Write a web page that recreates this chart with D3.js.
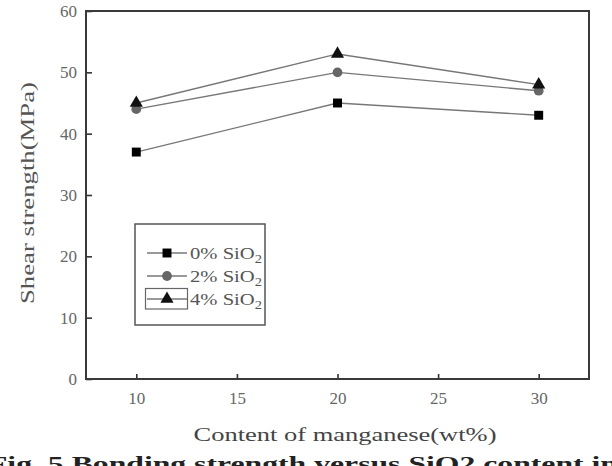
<!DOCTYPE html>
<html><head><meta charset="utf-8">
<script src="https://cdn.jsdelivr.net/npm/d3@7"></script>
<style>body{margin:0;background:#fff}svg{display:block}</style>
</head><body>
<svg id="c" width="612" height="466"></svg>
<script>
const manganese = [10, 20, 30];
const sio2_0 = [37, 45, 43];
const sio2_2 = [44, 50, 47];
const sio2_4 = [45, 53, 48];
const xTicks = [10, 15, 20, 25, 30];
const yTicks = [0, 10, 20, 30, 40, 50, 60];
const seriesNames = ["0% SiO", "2% SiO", "4% SiO"];

const svg = d3.select("#c");
const L = 86, R = 589, T = 11, B = 379;
const x = d3.scaleLinear().domain([7.5, 32.5]).range([L, R]);
const y = d3.scaleLinear().domain([0, 60]).range([B, T]);
const font = "'Liberation Serif', 'DejaVu Serif', serif";

// axes with inward ticks
const gx = svg.append("g").attr("transform", `translate(0,${B})`)
  .call(d3.axisBottom(x).tickValues(xTicks).tickSizeInner(-5).tickSizeOuter(0).tickPadding(13));
const gy = svg.append("g").attr("transform", `translate(${L},0)`)
  .call(d3.axisLeft(y).tickValues(yTicks).tickSizeInner(-6).tickSizeOuter(0).tickPadding(9));
[gx, gy].forEach(g => {
  g.select(".domain").remove();
  g.selectAll(".tick line").attr("stroke", "#333").attr("stroke-width", 1.6);
  g.selectAll(".tick text").attr("fill", "#666").attr("font-family", font).attr("font-size", 17);
});
gx.selectAll(".tick text").attr("dy", "0.71em");

// frame
svg.append("rect").attr("x", L).attr("y", T).attr("width", R - L).attr("height", B - T)
  .attr("fill", "none").attr("stroke", "#3a3a3a").attr("stroke-width", 2);

const series = [
  {vals: sio2_0, shape: d3.symbolSquare, fill: "#000", size: 80},
  {vals: sio2_2, shape: d3.symbolCircle, fill: "#666", size: 75},
  {vals: sio2_4, shape: d3.symbolTriangle, fill: "#111", size: 75}
];
const line = d3.line().x((d, i) => x(manganese[i])).y(d => y(d));
series.forEach(s => {
  svg.append("path").datum(s.vals).attr("d", line)
    .attr("fill", "none").attr("stroke", "#777").attr("stroke-width", 1.4);
  svg.selectAll(null).data(s.vals).enter().append("path")
    .attr("d", d3.symbol().type(s.shape).size(s.size))
    .attr("transform", (d, i) => `translate(${x(manganese[i])},${y(d)})`)
    .attr("fill", s.fill);
});

// legend
const lg = svg.append("g");
lg.append("rect").attr("x", 135).attr("y", 224).attr("width", 130).attr("height", 101)
  .attr("fill", "#fff").attr("stroke", "#555").attr("stroke-width", 1.5);
const rowsY = [253, 276, 299];
series.forEach((s, i) => {
  const yy = rowsY[i];
  if (i === 2) {
    lg.append("rect").attr("x", 145.5).attr("y", 288.5).attr("width", 42).attr("height", 20.5)
      .attr("fill", "none").attr("stroke", "#666").attr("stroke-width", 1.2);
  }
  lg.append("line").attr("x1", 147).attr("x2", 187).attr("y1", yy).attr("y2", yy)
    .attr("stroke", "#777").attr("stroke-width", 1.4);
  lg.append("path").attr("d", d3.symbol().type(s.shape).size(s.size))
    .attr("transform", `translate(167,${yy})`).attr("fill", s.fill);
  const t = lg.append("text").attr("x", 190).attr("y", yy + 5.5)
    .attr("font-family", font).attr("font-size", 17).attr("fill", "#555")
    .attr("textLength", 72).attr("lengthAdjust", "spacingAndGlyphs");
  t.append("tspan").text(seriesNames[i]);
  t.append("tspan").attr("font-size", 12).attr("dy", 4).text("2");
});

// axis titles
svg.append("text").attr("x", 345).attr("y", 441).attr("text-anchor", "middle")
  .attr("font-family", font).attr("font-size", 19).attr("fill", "#444")
  .attr("textLength", 303).attr("lengthAdjust", "spacingAndGlyphs")
  .text("Content of manganese(wt%)");
svg.append("text").attr("transform", "translate(34,193) rotate(-90)").attr("text-anchor", "middle")
  .attr("font-family", font).attr("font-size", 19).attr("fill", "#555")
  .attr("textLength", 222).attr("lengthAdjust", "spacingAndGlyphs")
  .text("Shear strength(MPa)");

// partially visible caption at the bottom edge (cut off in the reference too)
svg.append("text").attr("x", -12).attr("y", 471)
  .attr("font-family", font).attr("font-size", 22).attr("font-weight", "bold").attr("fill", "#222")
  .attr("textLength", 630).attr("lengthAdjust", "spacingAndGlyphs")
  .text("Fig. 5  Bonding strength versus SiO2 content in");
</script>
</body></html>
